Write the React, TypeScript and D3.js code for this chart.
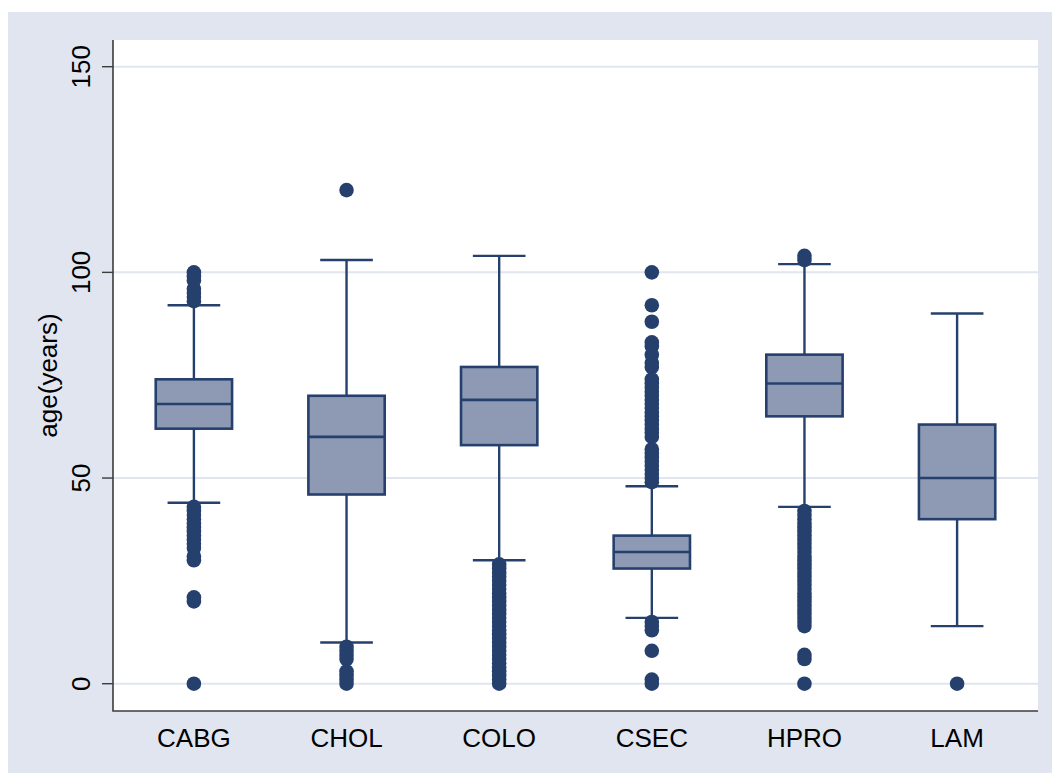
import React from "react";
import * as d3 from "d3";

// box plot of age by procedure
const categories = ["CABG", "CHOL", "COLO", "CSEC", "HPRO", "LAM"];
const q1 = [62, 46, 58, 28, 65, 40];
const medians = [68, 60, 69, 32, 73, 50];
const q3 = [74, 70, 77, 36, 80, 63];
const lowWhisker = [44, 10, 30, 16, 43, 14];
const highWhisker = [92, 103, 104, 48, 102, 90];
const outliers = [
  [100, 99, 98, 96, 95, 94, 93, 43, 42, 41, 40, 39, 38, 37, 36, 35, 34, 33, 31, 30, 21, 20, 0],
  [120, 9, 8, 7, 6, 3, 2, 1, 0],
  [29, 28, 27, 26, 25, 24, 23, 22, 21, 20, 19, 18, 17, 16, 15, 14, 13, 12, 11, 10, 9, 8, 7, 6, 5, 4, 3, 2, 1, 0],
  [100, 92, 88, 83, 82, 80, 78, 77, 74, 73, 72, 71, 70, 69, 68, 67, 66, 65, 64, 63, 62, 61, 60, 57, 56, 55, 54, 53, 52, 51, 50, 49, 15, 14, 13, 8, 1, 0],
  [104, 103, 42, 41, 40, 39, 38, 37, 36, 35, 34, 33, 32, 31, 30, 29, 28, 27, 26, 25, 24, 23, 22, 21, 20, 19, 18, 17, 16, 15, 14, 7, 6, 0],
  [0],
];
const yTicks = [0, 50, 100, 150];

const W = 1052;
const H = 773;
const plot = { left: 113, right: 1038, top: 40, bottom: 711 };
const navy = "#26406e";
const font = "'Liberation Sans', Arial, sans-serif";

const App = () => {
  const svg = React.useRef<SVGSVGElement>(null);

  React.useEffect(() => {
    const root = d3.select(svg.current);
    root.selectAll("*").remove();

    const x = d3
      .scalePoint<string>()
      .domain(categories)
      .range([plot.left, plot.right])
      .padding(0.53);
    const step = x.step();
    const y = d3.scaleLinear().domain([0, 150]).range([683.7, 66.7]);

    // background
    root.append("rect").attr("x", 8).attr("y", 12).attr("width", W - 8).attr("height", H - 12).attr("fill", "#e1e5f0");
    root
      .append("rect")
      .attr("x", plot.left)
      .attr("y", plot.top)
      .attr("width", plot.right - plot.left)
      .attr("height", plot.bottom - plot.top)
      .attr("fill", "#ffffff");

    // grid
    root
      .selectAll(".grid")
      .data(yTicks)
      .enter()
      .append("line")
      .attr("x1", plot.left)
      .attr("x2", plot.right)
      .attr("y1", (d) => y(d))
      .attr("y2", (d) => y(d))
      .attr("stroke", "#e1e5f0")
      .attr("stroke-width", 2);

    const boxW = step * 0.5;
    const capW = step * 0.345;

    categories.forEach((c, i) => {
      const cx = x(c) as number;
      const g = root.append("g");
      // whiskers
      g.append("line").attr("x1", cx).attr("x2", cx).attr("y1", y(q3[i])).attr("y2", y(highWhisker[i])).attr("stroke", navy).attr("stroke-width", 2.4);
      g.append("line").attr("x1", cx).attr("x2", cx).attr("y1", y(q1[i])).attr("y2", y(lowWhisker[i])).attr("stroke", navy).attr("stroke-width", 2.4);
      [highWhisker[i], lowWhisker[i]].forEach((v) => {
        g.append("line")
          .attr("x1", cx - capW / 2)
          .attr("x2", cx + capW / 2)
          .attr("y1", y(v))
          .attr("y2", y(v))
          .attr("stroke", navy)
          .attr("stroke-width", 2.4);
      });
      // box
      g.append("rect")
        .attr("x", cx - boxW / 2)
        .attr("y", y(q3[i]))
        .attr("width", boxW)
        .attr("height", y(q1[i]) - y(q3[i]))
        .attr("fill", "#8e9ab3")
        .attr("stroke", navy)
        .attr("stroke-width", 2.6);
      g.append("line")
        .attr("x1", cx - boxW / 2)
        .attr("x2", cx + boxW / 2)
        .attr("y1", y(medians[i]))
        .attr("y2", y(medians[i]))
        .attr("stroke", navy)
        .attr("stroke-width", 2.6);
      // outside values
      g.selectAll("circle")
        .data(outliers[i])
        .enter()
        .append("circle")
        .attr("cx", cx)
        .attr("cy", (d) => y(d))
        .attr("r", 7.3)
        .attr("fill", navy);
    });

    // axes
    root
      .append("path")
      .attr("d", `M${plot.left},${plot.top}V${plot.bottom}H${plot.right}`)
      .attr("fill", "none")
      .attr("stroke", "#3c3c3c")
      .attr("stroke-width", 1.6);

    yTicks.forEach((t) => {
      root.append("line").attr("x1", 102).attr("x2", plot.left).attr("y1", y(t)).attr("y2", y(t)).attr("stroke", "#3c3c3c").attr("stroke-width", 1.4);
      root
        .append("text")
        .attr("transform", `translate(90,${y(t)}) rotate(-90)`)
        .attr("text-anchor", "middle")
        .style("font-family", font)
        .style("font-size", "26px")
        .attr("fill", "#000")
        .text(t);
    });

    root
      .append("text")
      .attr("transform", `translate(57,${(plot.top + plot.bottom) / 2}) rotate(-90)`)
      .attr("text-anchor", "middle")
      .style("font-family", font)
      .style("font-size", "26px")
      .attr("fill", "#000")
      .text("age(years)");

    root
      .selectAll(".xlab")
      .data(categories)
      .enter()
      .append("text")
      .attr("x", (d) => x(d) as number)
      .attr("y", 747)
      .attr("text-anchor", "middle")
      .style("font-family", font)
      .style("font-size", "26px")
      .attr("fill", "#000")
      .text((d) => d);
  }, [svg]);

  return (
    <svg
      ref={svg}
      width={W}
      height={H}
      style={{ position: "absolute", left: 0, top: 0, background: "#fff" }}
    />
  );
};

export default App;
